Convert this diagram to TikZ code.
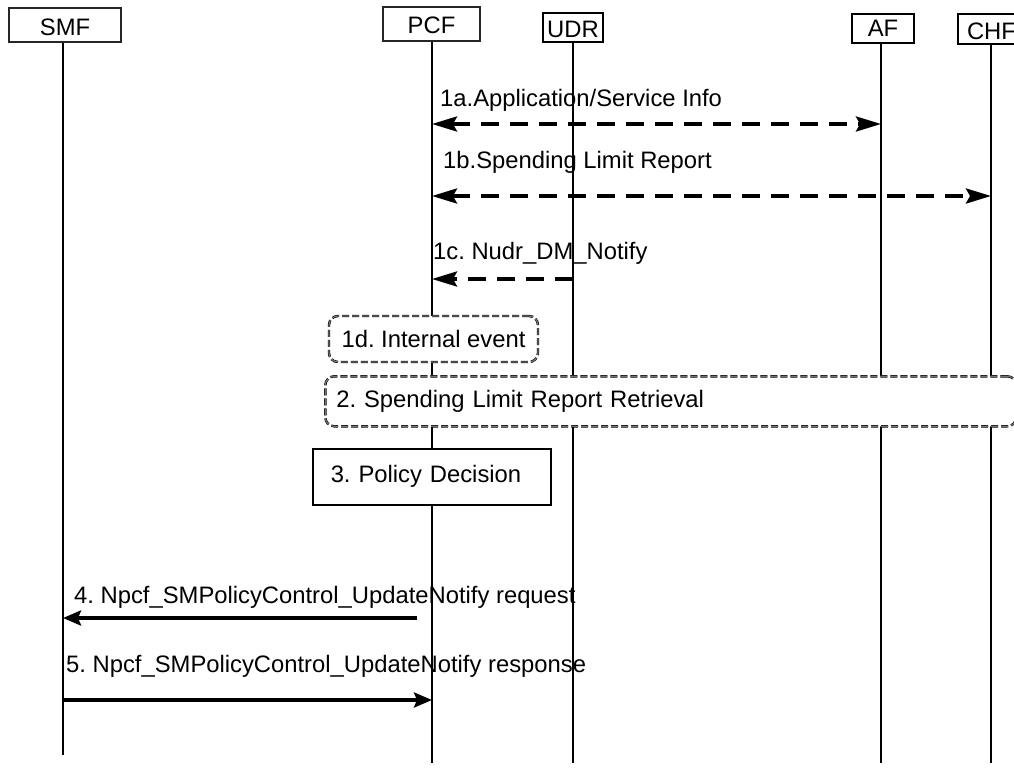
\documentclass[tikz,border=0pt]{standalone}
\usepackage{fontspec}
\setmainfont{Liberation Sans}
\usetikzlibrary{arrows.meta}
\frenchspacing
\begin{document}
\begin{tikzpicture}[x=1pt,y=-1pt,
  font=\fontsize{23.8}{28}\selectfont\frenchspacing,
  hdrthin/.style={draw=black!85, line width=1.3pt, fill=white, inner sep=0pt},
  hdrthick/.style={draw=black, line width=2pt, fill=white, inner sep=0pt},
  life/.style={draw=black, line width=1.8pt},
  lbl/.style={anchor=base west, inner sep=0pt},
  dmsg/.style={line width=3.5pt, dash pattern=on 18pt off 11pt},
  smsg/.style={line width=3.5pt},
  dtip/.tip={Stealth[length=25pt,width=15pt,inset=4pt]},
  stip/.tip={Stealth[length=18pt,width=15pt,inset=3pt]},
  evbox/.style={draw=black, double=black!55, double distance=1.2pt, line width=0.6pt,
                dash pattern=on 7pt off 3pt, rounded corners=9pt, fill=white},
  actbox/.style={draw=black, line width=1.5pt, fill=white}
]
\clip (0,0) rectangle (1014,771);
\fill[white] (0,0) rectangle (1014,771);

% header boxes
\node[hdrthin, minimum width=112pt, minimum height=34pt, text height=21pt, text depth=0pt] (smf) at (65,25) {SMF};
\node[hdrthin, minimum width=97pt, minimum height=34pt, text height=19pt, text depth=0pt] (pcf) at (431.5,24) {PCF};
\node[hdrthick, minimum width=60pt, minimum height=29pt, text height=20pt, text depth=0pt] (udr) at (573,27.5) {UDR};
\node[hdrthick, minimum width=62pt, minimum height=29pt, text height=17pt, text depth=1pt] (af) at (883,28.5) {AF};
\node[hdrthick, minimum width=67pt, minimum height=30pt, text height=20pt, text depth=0pt] (chf) at (991.5,29) {CHF};

% lifeline ends
\coordinate (smfE) at (63,755);
\coordinate (pcfE) at (432,763);
\coordinate (udrE) at (573,763);
\coordinate (afE) at (881,763);
\coordinate (chfE) at (991,763);

\draw[life] (smf.south -| smfE) -- (smfE);
\draw[life] (pcf.south -| pcfE) -- (pcfE);
\draw[life] (udr.south -| udrE) -- (udrE);
\draw[life] (af.south -| afE) -- (afE);
\draw[life] (chf.south -| chfE) -- (chfE);

% message levels
\coordinate (y1a) at (0,124);
\coordinate (y1b) at (0,196);
\coordinate (y1c) at (0,279);
\coordinate (y4) at (0,618);
\coordinate (y5) at (0,700);
\coordinate (s4) at (417,618);

% 1a
\node[lbl] (l1a) at (440,106) {1a.Application/Service Info};
\draw[dmsg, {dtip}-{dtip}] (pcfE |- y1a) -- (afE |- y1a);
% 1b
\node[lbl] (l1b) at (443,168) {1b.Spending Limit Report};
\draw[dmsg, {dtip}-{dtip}] (pcfE |- y1b) -- (chfE |- y1b);
% 1c
\node[lbl] (l1c) at (433,259) {1c. Nudr\_DM\_Notify};
\draw[dmsg, -{dtip}] (udrE |- y1c) -- (pcfE |- y1c);

% 1d
\node[evbox, minimum width=209pt, minimum height=46pt, inner sep=0pt] (e1d) at (433.5,339) {1d. Internal event};
% 2
\node[evbox, anchor=north west, minimum height=50pt, text width=669pt, inner xsep=11pt, inner ysep=0pt, align=left] (e2) at (325,376) {2. Spending Limit Report Retrieval};
% 3
\node[actbox, anchor=north west, minimum height=56pt, text width=202pt, inner xsep=18pt, inner ysep=0pt, align=left] (a3) at (312,448) {3. Policy Decision};

% 4
\node[lbl] (l4) at (74,603) {4. Npcf\_SMPolicyControl\_UpdateNotify request};
\draw[smsg, -{stip}] (s4) -- (smfE |- y4);
% 5
\node[lbl] (l5) at (66,672) {5. Npcf\_SMPolicyControl\_UpdateNotify response};
\draw[smsg, -{stip}] (smfE |- y5) -- (pcfE |- y5);
\end{tikzpicture}
\end{document}
